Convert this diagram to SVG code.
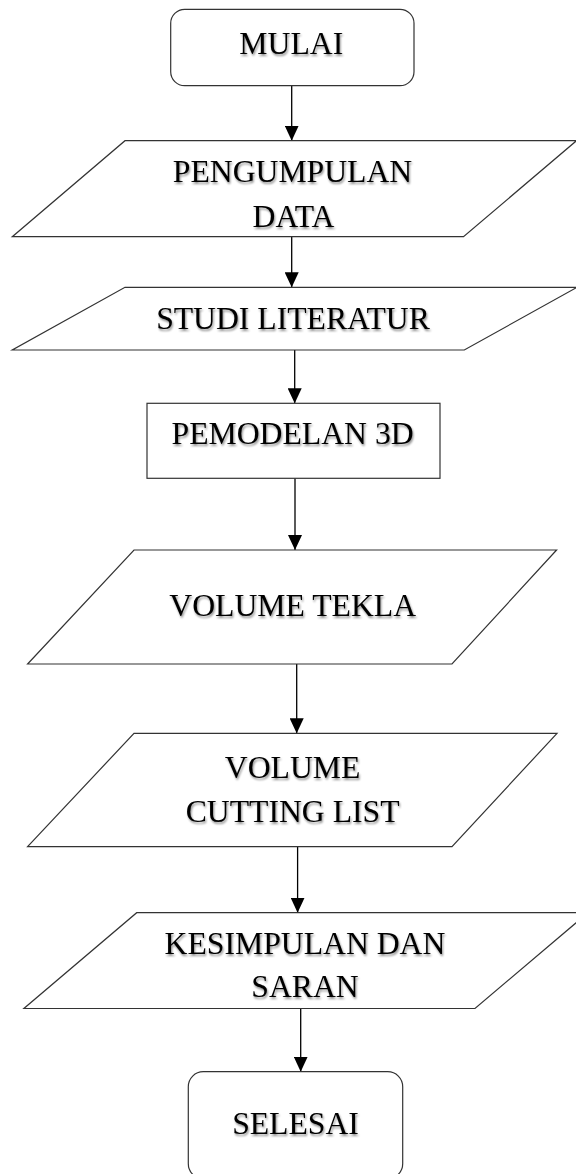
<svg xmlns="http://www.w3.org/2000/svg" width="576" height="1174" viewBox="0 0 576 1174">
<style>
.node{fill:#fff;stroke:#333;stroke-width:1.2}
.lbl{font-family:"Liberation Serif","Times New Roman",serif;font-size:31.7px;fill:#000;text-anchor:middle;filter:url(#sh)}
.conn{stroke:#000;stroke-width:1.3;fill:none;marker-end:url(#arr)}
</style>
<defs>
<marker id="arr" markerUnits="userSpaceOnUse" markerWidth="15" markerHeight="14" refX="15" refY="7" orient="auto">
<path d="M0,0 L15,7 L0,14 z" fill="#000"/>
</marker>
<filter id="sh" x="-10%" y="-30%" width="120%" height="160%">
<feGaussianBlur in="SourceAlpha" stdDeviation="1.3"/>
<feOffset dx="1.2" dy="1.8" result="b"/>
<feComponentTransfer><feFuncA type="linear" slope="0.45"/></feComponentTransfer>
<feMerge><feMergeNode/><feMergeNode in="SourceGraphic"/></feMerge>
</filter>
</defs>
<rect width="576" height="1174" fill="#fff"/>
<g id="connectors">
<line class="conn" x1="291.7" y1="85.7" x2="291.7" y2="140.7"/>
<line class="conn" x1="291.7" y1="236.7" x2="291.7" y2="287.3"/>
<line class="conn" x1="294.7" y1="350" x2="294.7" y2="403.3"/>
<line class="conn" x1="295" y1="478.3" x2="295" y2="550"/>
<line class="conn" x1="296.7" y1="664" x2="296.7" y2="733.3"/>
<line class="conn" x1="297.6" y1="846.7" x2="297.6" y2="912.7"/>
<line class="conn" x1="300.7" y1="1008.5" x2="300.7" y2="1071.7"/>
</g>
<g id="mulai">
<rect class="node" x="170.7" y="9.3" width="243.3" height="76.4" rx="14"/>
<text class="lbl" x="291.3" y="54.3">MULAI</text>
</g>
<g id="pengumpulan-data">
<polygon class="node" points="125,140.7 576.5,140.7 463.5,236.7 12.3,236.7"/>
<text class="lbl" x="292.5" y="182.3">PENGUMPULAN</text>
<text class="lbl" x="293.5" y="226.7">DATA</text>
</g>
<g id="studi-literatur">
<polygon class="node" points="125,287.3 577,287.3 464.3,350 12.3,350"/>
<text class="lbl" x="293" y="329">STUDI LITERATUR</text>
</g>
<g id="pemodelan-3d">
<rect class="node" x="147" y="403.3" width="293" height="75"/>
<text class="lbl" x="292.6" y="444">PEMODELAN 3D</text>
</g>
<g id="volume-tekla">
<polygon class="node" points="134,550 556.6,550 452,664 27.6,664"/>
<text class="lbl" x="292.7" y="616">VOLUME TEKLA</text>
</g>
<g id="volume-cutting-list">
<polygon class="node" points="134,733.3 557,733.3 452,846.7 27.6,846.7"/>
<text class="lbl" x="292.6" y="778.3">VOLUME</text>
<text class="lbl" x="292.6" y="821.7">CUTTING LIST</text>
</g>
<g id="kesimpulan-saran">
<polygon class="node" points="136.7,912.7 588,912.7 475,1008.5 23.9,1008.5"/>
<text class="lbl" x="305" y="954">KESIMPULAN DAN</text>
<text class="lbl" x="305" y="997.3">SARAN</text>
</g>
<g id="selesai">
<rect class="node" x="188.3" y="1071.7" width="214.4" height="107" rx="15"/>
<text class="lbl" x="295.5" y="1134.3">SELESAI</text>
</g>
</svg>
